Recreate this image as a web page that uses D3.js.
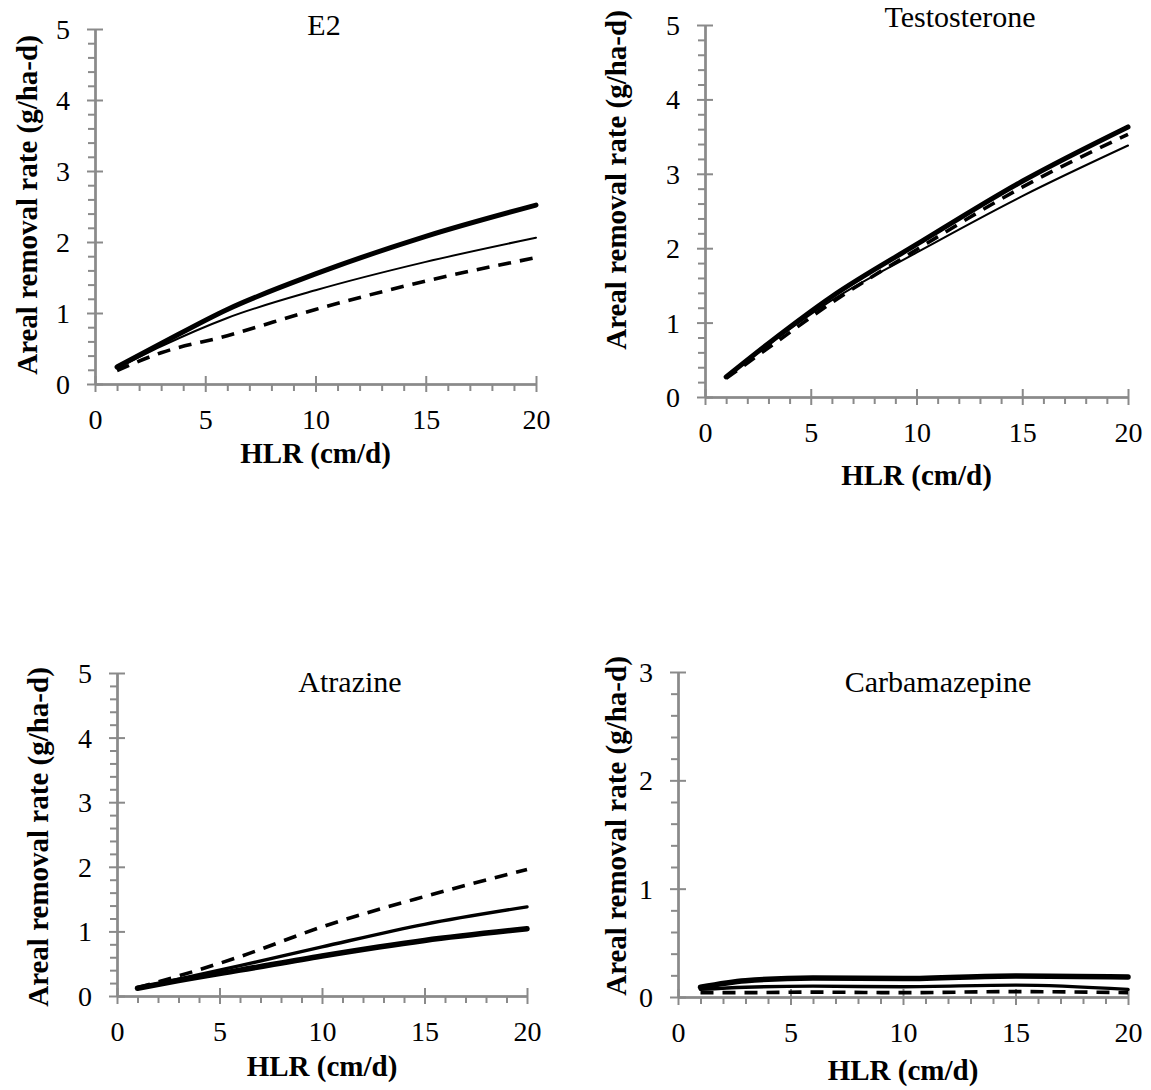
<!DOCTYPE html>
<html>
<head>
<meta charset="utf-8">
<script src="https://cdn.jsdelivr.net/npm/d3@7"></script>
<style>
  body { margin: 0; background: #fff; }
  svg { display: block; }
  svg text { font-family: "Liberation Serif", "Times New Roman", serif !important; fill: #000; }
</style>
</head>
<body>
<svg id="chart" width="1151" height="1090"></svg>
<script>
// Hydraulic loading rates (cm/d) at which removal was computed
const hlr = [1, 3, 6, 10, 15, 20];
const xTickLabels = [0, 5, 10, 15, 20];

// Areal removal rate (g/ha-d) for each compound, three curves each
const e2Bold = [0.24, 0.57, 1.05, 1.55, 2.08, 2.52];
const e2Thin = [0.22, 0.53, 0.93, 1.32, 1.72, 2.06];
const e2Dash = [0.19, 0.44, 0.68, 1.05, 1.45, 1.78];

const testoBold = [0.27, 0.72, 1.35, 2.05, 2.90, 3.63];
const testoThin = [0.26, 0.70, 1.30, 1.94, 2.70, 3.38];
const testoDash = [0.25, 0.66, 1.27, 1.98, 2.82, 3.53];

const atrazineBold = [0.12, 0.24, 0.40, 0.62, 0.86, 1.04];
const atrazineThin = [0.12, 0.26, 0.47, 0.76, 1.11, 1.38];
const atrazineDash = [0.13, 0.31, 0.61, 1.07, 1.54, 1.96];

const carbaBold = [0.09, 0.15, 0.175, 0.17, 0.195, 0.185];
const carbaThin = [0.07, 0.09, 0.10, 0.095, 0.11, 0.07];
const carbaDash = [0.04, 0.04, 0.045, 0.04, 0.05, 0.04];

const yTicks5 = [0, 1, 2, 3, 4, 5];
const yTicks3 = [0, 1, 2, 3];

const yLabel = "Areal removal rate (g/ha-d)";
const xLabel = "HLR (cm/d)";

// Panel geometry and styling
const panels = [
  { title: "E2", yMax: 5, yTicks: yTicks5,
    series: [[e2Bold, "bold"], [e2Thin, "thin"], [e2Dash, "dash"]],
    left: 95, right: 536, bottom: 384, top: 29,
    titleX: 324, titleY: 35, yLabX: 37, yLabY: 205, xLabY: 463,
    widths: { bold: 5, thin: 2, dash: 3.6 } },
  { title: "Testosterone", yMax: 5, yTicks: yTicks5,
    series: [[testoBold, "bold"], [testoThin, "thin"], [testoDash, "dash"]],
    left: 705, right: 1128, bottom: 397, top: 25,
    titleX: 960, titleY: 27, yLabX: 626, yLabY: 180, xLabY: 485,
    widths: { bold: 5, thin: 2, dash: 3.6 } },
  { title: "Atrazine", yMax: 5, yTicks: yTicks5,
    series: [[atrazineBold, "bold"], [atrazineThin, "thin"], [atrazineDash, "dash"]],
    left: 117, right: 527, bottom: 996, top: 673,
    titleX: 350, titleY: 692, yLabX: 48, yLabY: 837, xLabY: 1076,
    widths: { bold: 5.5, thin: 3.4, dash: 3.6 } },
  { title: "Carbamazepine", yMax: 3, yTicks: yTicks3,
    series: [[carbaBold, "bold"], [carbaThin, "thin"], [carbaDash, "dash"]],
    left: 678, right: 1128, bottom: 997, top: 672,
    titleX: 938, titleY: 692, yLabX: 626, yLabY: 826, xLabY: 1080,
    widths: { bold: 5.5, thin: 3.4, dash: 3.6 } }
];

const svg = d3.select("#chart");
const axisColor = "#8a8a8a";
const serif = '"Liberation Serif", "Times New Roman", serif';

function styleAxis(g) {
  g.attr("font-family", serif);
  g.selectAll("path.domain").attr("stroke", axisColor).attr("stroke-width", 2);
  g.selectAll(".tick line").attr("stroke", axisColor).attr("stroke-width", 2);
}

panels.forEach(p => {
  const x = d3.scaleLinear().domain([0, 20]).range([p.left, p.right]);
  const y = d3.scaleLinear().domain([0, p.yMax]).range([p.bottom, p.top]);
  const g = svg.append("g");

  const xMinor = d3.range(0, 21, 1).filter(v => v % 5 !== 0);
  const yMinor = d3.range(0, p.yMax * 5 + 1).map(i => i / 5).filter(v => Math.abs(v - Math.round(v)) > 1e-6);

  // y axis: minor ticks outside, major ticks crossing
  g.append("g").attr("transform", `translate(${p.left},0)`)
    .call(d3.axisLeft(y).tickValues(yMinor).tickSize(7).tickSizeOuter(0).tickFormat(""))
    .call(styleAxis);
  g.append("g").attr("transform", `translate(${p.left},0)`)
    .call(d3.axisRight(y).tickValues(p.yTicks).tickSize(8).tickSizeOuter(0).tickFormat(""))
    .call(styleAxis);
  const yAx = g.append("g").attr("transform", `translate(${p.left},0)`)
    .call(d3.axisLeft(y).tickValues(p.yTicks).tickSize(8).tickPadding(17).tickSizeOuter(0).tickFormat(d3.format("d")))
    .call(styleAxis);
  yAx.selectAll("text").attr("font-size", 28).style("font-family", serif).attr("fill", "#000").attr("dy", "0.34em");

  // x axis: minor ticks below, major ticks crossing
  g.append("g").attr("transform", `translate(0,${p.bottom})`)
    .call(d3.axisBottom(x).tickValues(xMinor).tickSize(7).tickSizeOuter(0).tickFormat(""))
    .call(styleAxis);
  g.append("g").attr("transform", `translate(0,${p.bottom})`)
    .call(d3.axisTop(x).tickValues(xTickLabels).tickSize(8).tickSizeOuter(0).tickFormat(""))
    .call(styleAxis);
  const xAx = g.append("g").attr("transform", `translate(0,${p.bottom})`)
    .call(d3.axisBottom(x).tickValues(xTickLabels).tickSize(8).tickPadding(0).tickSizeOuter(0).tickFormat(d3.format("d")))
    .call(styleAxis);
  xAx.selectAll("text").attr("font-size", 28).style("font-family", serif).attr("fill", "#000")
    .attr("y", 45).attr("dy", 0);

  // curves
  const line = d3.line().x((d, i) => x(hlr[i])).y(d => y(d)).curve(d3.curveMonotoneX);
  p.series.forEach(([vals, kind]) => {
    const path = g.append("path").datum(vals)
      .attr("d", line)
      .attr("fill", "none")
      .attr("stroke", "#000")
      .attr("stroke-width", p.widths[kind])
      .attr("stroke-linejoin", "round");
    if (kind === "dash") path.attr("stroke-dasharray", "13,9").attr("stroke-linecap", "butt");
    else path.attr("stroke-linecap", "round");
  });

  // titles and axis labels
  g.append("text").attr("x", p.titleX).attr("y", p.titleY)
    .attr("text-anchor", "middle").attr("font-size", 30).style("font-family", serif).text(p.title);
  g.append("text").attr("transform", `translate(${p.yLabX},${p.yLabY}) rotate(-90)`)
    .attr("text-anchor", "middle").attr("font-size", 29).attr("font-weight", "bold").style("font-family", serif).text(yLabel);
  g.append("text").attr("x", (p.left + p.right) / 2).attr("y", p.xLabY)
    .attr("text-anchor", "middle").attr("font-size", 29).attr("font-weight", "bold").style("font-family", serif).text(xLabel);
});
</script>
</body>
</html>
